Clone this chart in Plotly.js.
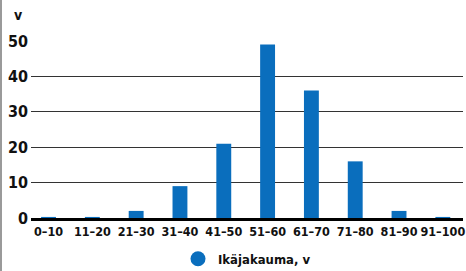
<!DOCTYPE html>
<html><head><meta charset="utf-8">
<script src="https://cdn.plot.ly/plotly-3.0.1.min.js"></script>
<style>
html,body{margin:0;padding:0;background:#fff;}
#wrap{position:relative;width:466px;height:271px;}
#chart{width:466px;height:271px;}
#edge{position:absolute;left:0;top:0;width:2px;height:271px;background:#9a9a9a;}
</style></head>
<body><div id="wrap"><div id="chart"></div><div id="edge"></div></div>
<script>
const categories = ["0–10","11–20","21–30","31–40","41–50","51–60","61–70","71–80","81–90","91–100"];
const values = [0.3, 0.3, 2, 9, 21, 49, 36, 16, 2, 0.3];
const seriesName = "Ikäjakauma, v";
const yTicks = [0, 10, 20, 30, 40, 50];
const yUnit = "v";

const FONT = "DejaVu Sans Condensed, Arial Narrow, sans-serif";
const BLUE = "#0a6ebd";

const traces = [
  {type:"bar", x:categories, y:values, marker:{color:BLUE}, width:0.34, showlegend:false, hoverinfo:"none"},
  {type:"scatter", mode:"markers", x:[categories[0]], y:[null], name:seriesName,
   marker:{color:BLUE, size:15, symbol:"circle"}, showlegend:true}
];

const layout = {
  width:466, height:271,
  margin:{l:31, r:3, t:41, b:53, pad:0},
  paper_bgcolor:"#fff", plot_bgcolor:"#fff",
  font:{family:FONT, size:14, color:"#111", weight:"bold"},
  xaxis:{type:"category", range:[-0.4, 9.46], showgrid:false, zeroline:false,
    showline:true, linecolor:"#000", linewidth:2.5, ticks:"", tickangle:0, automargin:false,
    tickfont:{family:FONT, size:12.5, color:"#111", weight:"bold"}, fixedrange:true},
  yaxis:{range:[0, 50], tickvals:yTicks, showgrid:true, gridcolor:"#333", gridwidth:1,
    zeroline:false, showline:false, ticks:"", ticklabelstandoff:2, automargin:false,
    tickfont:{family:FONT, size:16, color:"#111", weight:"bold"}, fixedrange:true},
  showlegend:true,
  legend:{orientation:"h", x:0.5, xanchor:"center", xref:"paper", yref:"container", y:0.045, yanchor:"middle",
    font:{family:FONT, size:13, color:"#111", weight:"bold"}, itemsizing:"trace", bgcolor:"rgba(0,0,0,0)"},
  annotations:[{text:yUnit, xref:"paper", yref:"paper", x:0, y:1, xanchor:"right", yanchor:"bottom",
    xshift:-6, yshift:16, showarrow:false, font:{family:FONT, size:14, color:"#111", weight:"bold"}}]
};

Plotly.newPlot("chart", traces, layout, {displayModeBar:false, staticPlot:true});
</script></body></html>
